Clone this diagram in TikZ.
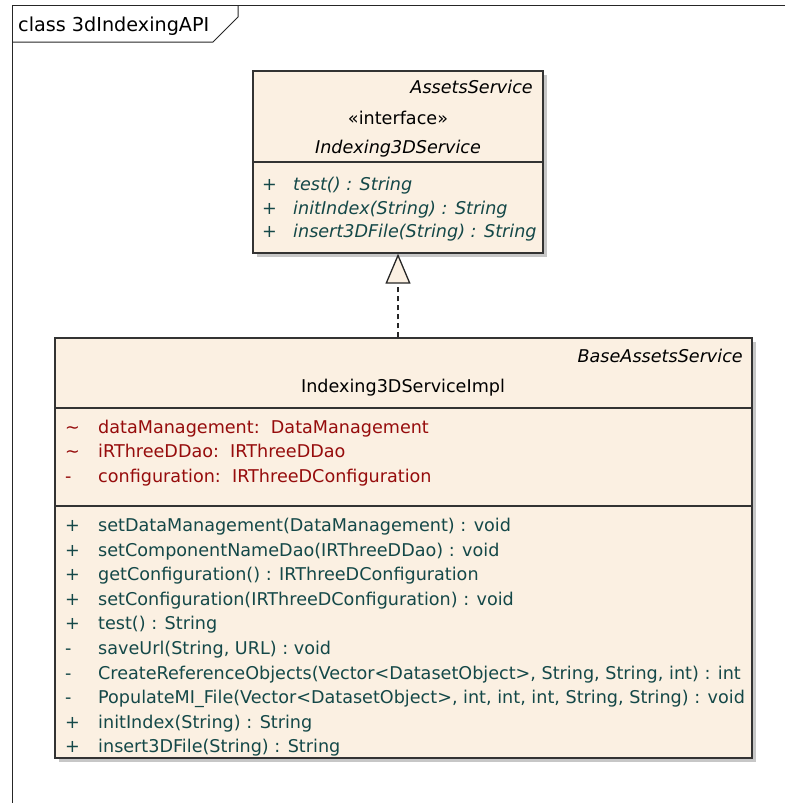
\documentclass[tikz,border=0pt]{standalone}
\usepackage{fontspec}
\setmainfont{DejaVu Sans}
\usetikzlibrary{positioning,arrows.meta,shadows}

\definecolor{classfill}{RGB}{251,240,226}
\definecolor{opteal}{RGB}{20,72,72}
\definecolor{attrred}{RGB}{150,12,12}

\begin{document}
\begin{tikzpicture}[
    x=1pt, y=-1pt,
    frameline/.style={line width=1pt, draw=black!85},
    classbox/.style={draw=black!80, fill=classfill, line width=1.4pt, inner sep=0pt,
        drop shadow={shadow xshift=4pt, shadow yshift=-4pt, fill=black!22, opacity=1}},
    sepline/.style={line width=1.2pt, draw=black!80},
    umltext/.style={font=\fontsize{17.6}{20}\selectfont, inner sep=0pt},
    optext/.style={umltext, text=opteal},
    attrtext/.style={umltext, text=attrred},
    realize/.style={line width=1.3pt, draw=black!85, dash pattern=on 5pt off 4pt,
        -{Triangle[length=30pt, width=25pt, fill=classfill]}}
]
    \useasboundingbox (0,0) rectangle (785,803);

    % Diagram frame with its name tab
    \draw[frameline] (785,5) -- (12,5) -- (12,803);
    \draw[frameline] (12,42) -- (213,42) -- (238,17) -- (238,5);
    \node[umltext, font=\fontsize{19.2}{22}\selectfont, anchor=base west] (framename) at (18,31.5) {class 3dIndexingAPI};

    % --- Interface Indexing3DService ---
    \node[classbox, minimum width=290pt, minimum height=182pt] (iface) at (398,162) {};
    \draw[sepline] (253,162) -- (543,162);
    \node[umltext, anchor=base east] (ifacepkg) at (533,93) {\itshape AssetsService};
    \node[umltext, anchor=base] (ifacestereo) at (398,124) {«interface»};
    \node[umltext, anchor=base] (ifacename) at (398,153) {\itshape Indexing3DService};
    \foreach \txt [count=\i from 0] in {test() : String, initIndex(String) : String, insert3DFile(String) : String} {
        \node[optext, anchor=base west] (ifacesign\i) at (262,190.5+23.5*\i) {+};
        \node[optext, anchor=base west] (ifaceop\i) at (293,190.5+23.5*\i) {\itshape \txt};
    }

    % --- Class Indexing3DServiceImpl ---
    \node[classbox, minimum width=697pt, minimum height=420pt] (impl) at (403.5,548) {};
    \draw[sepline] (55,408) -- (752,408);
    \draw[sepline] (55,506) -- (752,506);
    \node[umltext, anchor=base east] (implpkg) at (743,362) {\itshape BaseAssetsService};
    \node[umltext, anchor=base] (implname) at (403,392) {Indexing3DServiceImpl};

    % attributes
    \foreach \sgn/\txt [count=\i from 0] in {\textasciitilde/{dataManagement:\ \ DataManagement},
        \textasciitilde/{iRThreeDDao:\ \ IRThreeDDao}, -/{configuration:\ \ IRThreeDConfiguration}} {
        \node[attrtext, anchor=base west] (implattrsign\i) at (65,433+24.5*\i) {\sgn};
        \node[attrtext, anchor=base west] (implattr\i) at (98,433+24.5*\i) {\txt};
    }

    % operations
    \foreach \sgn/\txt [count=\i from 0] in {
        +/{setDataManagement(DataManagement) : void},
        +/{setComponentNameDao(IRThreeDDao) : void},
        +/{getConfiguration() : IRThreeDConfiguration},
        +/{setConfiguration(IRThreeDConfiguration) : void},
        +/{test() : String},
        -/{saveUrl(String, URL) : void},
        -/{CreateReferenceObjects(Vector<DatasetObject>, String, String, int) : int},
        -/{PopulateMI\_File(Vector<DatasetObject>, int, int, int, String, String) : void},
        +/{initIndex(String) : String},
        +/{insert3DFile(String) : String}} {
        \node[optext, anchor=base west] (implopsign\i) at (65,531.5+24.6*\i) {\sgn};
        \node[optext, anchor=base west] (implop\i) at (98,531.5+24.6*\i) {\txt};
    }

    % Realization
    \draw[realize] (iface.south |- impl.north) -- (iface.south);

\end{tikzpicture}
\end{document}
